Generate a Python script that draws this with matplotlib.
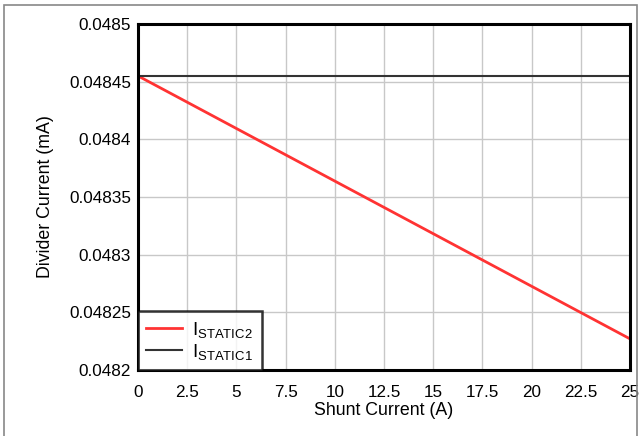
import matplotlib
matplotlib.use("Agg")
import matplotlib.pyplot as plt
from matplotlib.patches import Rectangle

plt.rcParams['font.family'] = ['Liberation Sans', 'DejaVu Sans']
plt.rcParams['mathtext.fontset'] = 'custom'
plt.rcParams['mathtext.rm'] = 'Liberation Sans'
plt.rcParams['mathtext.it'] = 'Liberation Sans'

shunt_current = [0, 25]
i_static2 = [0.048455, 0.048227]
i_static1 = [0.048455, 0.048455]
x_ticks = [0, 2.5, 5, 7.5, 10, 12.5, 15, 17.5, 20, 22.5, 25]
x_labels = ['0', '2.5', '5', '7.5', '10', '12.5', '15', '17.5', '20', '22.5', '25']
y_ticks = [0.0482, 0.04825, 0.0483, 0.04835, 0.0484, 0.04845, 0.0485]
y_labels = ['0.0482', '0.04825', '0.0483', '0.04835', '0.0484', '0.04845', '0.0485']

fig = plt.figure(figsize=(6.4, 4.36), dpi=100)
ax = fig.add_axes([138/640, 1-370/436, (630-138)/640, (370-24)/436])

ax.plot(shunt_current, i_static2, color='#ff3333', lw=2, label=r'I$_{\mathrm{STATIC2}}$')
ax.plot(shunt_current, i_static1, color='#333333', lw=1.5, label=r'I$_{\mathrm{STATIC1}}$')

ax.set_xlim(0, 25)
ax.set_ylim(0.0482, 0.0485)
ax.set_xticks(x_ticks)
ax.set_xticklabels(x_labels)
ax.set_yticks(y_ticks)
ax.set_yticklabels(y_labels)
ax.tick_params(length=0, labelsize=12.3, colors='black')
ax.tick_params(axis='y', pad=5)
ax.tick_params(axis='x', pad=11)
ax.grid(True, color='#c8c8c8', lw=1)
ax.set_axisbelow(True)
for s in ax.spines.values():
    s.set_linewidth(2.2)
    s.set_color('black')

ax.set_xlabel('Shunt Current (A)', fontsize=12.8, labelpad=1)
ax.set_ylabel('Divider Current (mA)', fontsize=12.8, labelpad=11)

leg = ax.legend(loc='lower left', bbox_to_anchor=(0, 0), fontsize=13.5, frameon=True,
                fancybox=False, borderaxespad=0, handlelength=1.9, handletextpad=0.55,
                labelspacing=0.1, borderpad=0.45)
leg.get_frame().set_edgecolor('black')
leg.get_frame().set_linewidth(1.8)

fig.patches.append(Rectangle((4/640, -0.02), (637-4)/640, 1.02 - 5/436, transform=fig.transFigure,
                             fill=False, edgecolor='#888888', lw=1.2))

fig.savefig('out.png', dpi=100)
